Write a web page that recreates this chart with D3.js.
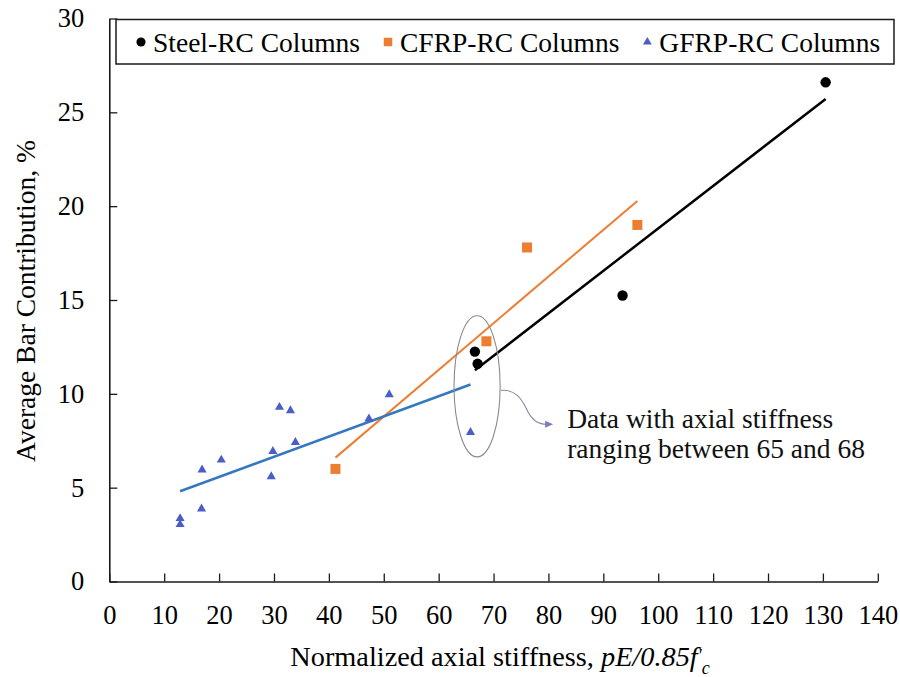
<!DOCTYPE html>
<html>
<head>
<meta charset="utf-8">
<script src="https://cdn.jsdelivr.net/npm/d3@7"></script>
<style>
  html, body { margin: 0; padding: 0; background: #fff; }
  svg { display: block; }
</style>
</head>
<body>
<svg id="chart" width="900" height="677"></svg>
<script>
// Tick values
const xTickValues = [0, 10, 20, 30, 40, 50, 60, 70, 80, 90, 100, 110, 120, 130, 140];
const yTickValues = [0, 5, 10, 15, 20, 25, 30];

// Series: normalized axial stiffness (x) vs average bar contribution % (y)
const steelX = [66.6, 67.1, 93.5, 130.5];
const steelY = [12.25, 11.6, 15.24, 26.6];

const cfrpX = [41.2, 68.7, 76.1, 96.2];
const cfrpY = [6.0, 12.8, 17.8, 19.0];

const gfrpX = [12.9, 12.9, 16.8, 16.9, 20.4, 29.5, 29.8, 31.0, 33.0, 33.9, 47.3, 51.0, 65.8];
const gfrpY = [3.36, 3.04, 3.87, 5.95, 6.48, 5.59, 6.94, 9.29, 9.11, 7.42, 8.67, 9.96, 7.95];

const seriesNames = ["Steel-RC Columns", "CFRP-RC Columns", "GFRP-RC Columns"];

// Highlighted region: stiffness between 65 and 68
const noteCenter = [67.0, 10.4];
const noteRadii = [4.2, 3.76];
const noteLines = ["Data with axial stiffness", "ranging between 65 and 68"];

const FONT = '"Liberation Serif"';
const serifText = (sel, size) => sel.style("font-family", FONT).style("font-size", size + "px");

const svg = d3.select("#chart");

const x = d3.scaleLinear().domain([0, 140]).range([109.3, 877.8]);
const y = d3.scaleLinear().domain([0, 30]).range([581.5, 18.5]);

const styles = [
  { color: "#000000", line: "#000000", lineWidth: 2.5, symbol: d3.symbolCircle, size: 85, legendSize: 66 },
  { color: "#ED7D31", line: "#ED7D31", lineWidth: 2, symbol: d3.symbolSquare, size: 100, legendSize: 72 },
  { color: "#4B5EC6", line: "#3478C0", lineWidth: 2.5, symbol: d3.symbolTriangle, size: 36, legendSize: 34 }
];

const series = [
  { name: seriesNames[0], pts: steelX.map((v, i) => [v, steelY[i]]) },
  { name: seriesNames[1], pts: cfrpX.map((v, i) => [v, cfrpY[i]]) },
  { name: seriesNames[2], pts: gfrpX.map((v, i) => [v, gfrpY[i]]) }
];

// Least-squares linear fit over the series' own x extent
function linearFit(pts) {
  const mx = d3.mean(pts, p => p[0]);
  const my = d3.mean(pts, p => p[1]);
  const sxy = d3.sum(pts, p => (p[0] - mx) * (p[1] - my));
  const sxx = d3.sum(pts, p => (p[0] - mx) * (p[0] - mx));
  const b = sxy / sxx, a = my - b * mx;
  const [x0, x1] = d3.extent(pts, p => p[0]);
  return [[x0, a + b * x0], [x1, a + b * x1]];
}

// Axes
const xAxis = d3.axisBottom(x).tickValues(xTickValues).tickSize(-8).tickSizeOuter(0).tickPadding(24);
const yAxis = d3.axisLeft(y).tickValues(yTickValues).tickSize(-8).tickSizeOuter(0).tickPadding(25);

const gx = svg.append("g").attr("transform", `translate(0,${y(0)})`).call(xAxis);
const gy = svg.append("g").attr("transform", `translate(${x(0)},0)`).call(yAxis);

[gx, gy].forEach(g => {
  g.attr("font-family", null).attr("font-size", null);
  g.select(".domain").attr("stroke", "#1a1a1a").attr("stroke-width", 1.6);
  g.selectAll(".tick line").attr("stroke", "#1a1a1a").attr("stroke-width", 1.3);
  g.selectAll(".tick text").attr("fill", "#000").call(serifText, 26.5);
});

// Trend lines
const line = d3.line().x(d => x(d[0])).y(d => y(d[1]));
const plot = svg.append("g");
series.forEach((s, i) => {
  plot.append("path")
    .attr("d", line(linearFit(s.pts)))
    .attr("fill", "none")
    .attr("stroke", styles[i].line)
    .attr("stroke-width", styles[i].lineWidth);
});

// Markers
series.forEach((s, i) => {
  const sym = d3.symbol().type(styles[i].symbol).size(styles[i].size);
  plot.append("g").selectAll("path")
    .data(s.pts)
    .join("path")
    .attr("d", sym)
    .attr("transform", d => `translate(${x(d[0])},${y(d[1])})`)
    .attr("fill", styles[i].color);
});

// Ellipse around the 65-68 stiffness group
const ecx = x(noteCenter[0]), ecy = y(noteCenter[1]);
const erx = x(noteCenter[0] + noteRadii[0]) - ecx;
const ery = ecy - y(noteCenter[1] + noteRadii[1]);
svg.append("ellipse")
  .attr("cx", ecx).attr("cy", ecy)
  .attr("rx", erx).attr("ry", ery)
  .attr("fill", "none")
  .attr("stroke", "#8a8a8a")
  .attr("stroke-width", 1.1);

// Curved connector to the note
const sx = ecx + erx + 1, sy = ecy + 4;
const tipX = sx + 52, tipY = sy + 34;
svg.append("path")
  .attr("d", `M${sx},${sy} C${sx + 14},${sy - 1} ${sx + 20},${sy + 8} ${sx + 25},${sy + 18}
              C${sx + 30},${sy + 29} ${sx + 36},${tipY} ${tipX - 6},${tipY}`)
  .attr("fill", "none")
  .attr("stroke", "#8a88a6")
  .attr("stroke-width", 1.1);
svg.append("path")
  .attr("d", `M${tipX},${tipY} L${tipX - 8},${tipY - 3.5} L${tipX - 8},${tipY + 3.5} Z`)
  .attr("fill", "#7e7cc0");

const note = svg.append("text")
  .attr("x", tipX + 14)
  .attr("y", tipY + 4)
  .attr("fill", "#111")
  .call(serifText, 27.5);
noteLines.forEach((t, i) => {
  note.append("tspan").attr("x", tipX + 14).attr("dy", i === 0 ? 0 : 30).text(t);
});

// Legend
const legend = svg.append("g");
legend.append("rect")
  .attr("x", 116).attr("y", 19.5)
  .attr("width", 778).attr("height", 44.5)
  .attr("fill", "#fff")
  .attr("stroke", "#1a1a1a")
  .attr("stroke-width", 1.5);
let lx = 141;
series.forEach((s, i) => {
  legend.append("path")
    .attr("d", d3.symbol().type(styles[i].symbol).size(styles[i].legendSize)())
    .attr("transform", `translate(${lx},42)`)
    .attr("fill", styles[i].color);
  const t = legend.append("text")
    .attr("x", lx + 12).attr("y", 51.5)
    .attr("fill", "#000")
    .call(serifText, 27.5)
    .text(s.name);
  lx += 12 + t.node().getComputedTextLength() + 28;
});

// Axis titles
const xTitle = svg.append("text")
  .attr("x", 500).attr("y", 666)
  .attr("text-anchor", "middle")
  .attr("fill", "#000")
  .call(serifText, 28.3);
xTitle.append("tspan").text("Normalized axial stiffness, ");
xTitle.append("tspan").style("font-style", "italic").text("pE/0.85f");
xTitle.append("tspan").style("font-style", "italic").style("font-size", "18px").attr("dy", -4).text("′");
xTitle.append("tspan").style("font-style", "italic").style("font-size", "18px").attr("dy", 12).text("c");

svg.append("text")
  .attr("transform", "translate(35,301) rotate(-90)")
  .attr("text-anchor", "middle")
  .attr("fill", "#000")
  .call(serifText, 27.5)
  .text("Average Bar Contribution, %");
</script>
</body>
</html>
